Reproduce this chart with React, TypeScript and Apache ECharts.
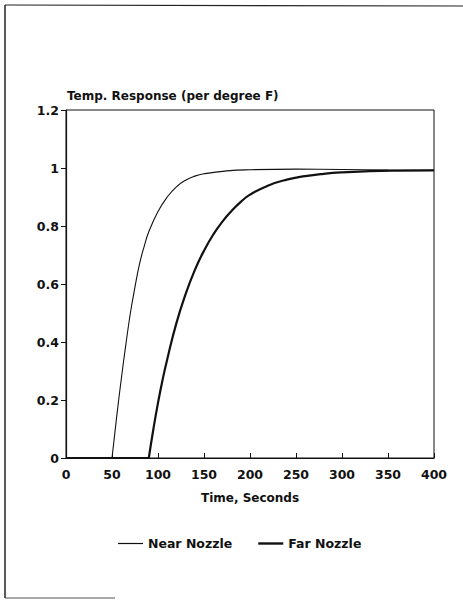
import React, { useEffect, useRef } from "react";
import * as echarts from "echarts";

const xTicks = [0, 50, 100, 150, 200, 250, 300, 350, 400];
const yTicks = [0, 0.2, 0.4, 0.6, 0.8, 1, 1.2];

// Response is zero until each curve's start time
const nearStart = 50;
const farStart = 90;

const nearTime = [50, 55, 60, 65, 70, 75, 80, 85, 90, 100, 110, 120, 130, 140, 150, 175, 200, 250, 300, 350, 400];
const nearValue = [0, 0.14, 0.27, 0.39, 0.5, 0.59, 0.67, 0.73, 0.78, 0.85, 0.9, 0.935, 0.958, 0.972, 0.98, 0.99, 0.994, 0.996, 0.995, 0.993, 0.992];

const farTime = [90, 95, 100, 105, 110, 120, 130, 140, 150, 160, 170, 180, 190, 200, 220, 240, 260, 280, 300, 330, 360, 400];
const farValue = [0, 0.1, 0.19, 0.27, 0.34, 0.465, 0.565, 0.648, 0.715, 0.77, 0.815, 0.852, 0.883, 0.908, 0.94, 0.96, 0.972, 0.98, 0.985, 0.989, 0.991, 0.992];

const FONT = "DejaVu Sans";

export default function App() {
  const ref = useRef<HTMLDivElement>(null);
  useEffect(() => {
    document.body.style.margin = "0";
    const chart = echarts.init(ref.current!, undefined, { renderer: "svg" });
    const near = nearTime.map((t, i) => [t, nearValue[i]]);
    const far = farTime.map((t, i) => [t, farValue[i]]);
    const txt = { fontFamily: FONT, fontSize: 12, fontWeight: "bold" as const, color: "#111" };
    const nearLine = { color: "#111", width: 1.1 };
    const farLine = { color: "#111", width: 2.2 };
    chart.setOption({
      animation: false,
      backgroundColor: "#fff",
      textStyle: { fontFamily: FONT },
      title: {
        text: "Temp. Response (per degree F)",
        left: 67,
        top: 90,
        padding: 0,
        textStyle: txt,
      },
      grid: {
        left: 66,
        right: 29,
        top: 110,
        bottom: 147,
        show: true,
        borderColor: "#111",
        borderWidth: 1,
        backgroundColor: "transparent",
      },
      legend: {
        left: 118,
        top: 537,
        padding: 0,
        itemWidth: 25,
        itemHeight: 12,
        itemGap: 26,
        textStyle: { ...txt, fontSize: 12.5 },
        itemStyle: { borderWidth: 0 },
        data: [
          { name: "Near Nozzle", icon: "path://M0,0h25v1.2h-25z" },
          { name: "Far Nozzle", icon: "path://M0,0h25v2.4h-25z" },
        ],
      },
      xAxis: {
        type: "value",
        min: 0,
        max: 400,
        interval: 50,
        name: "Time, Seconds",
        nameLocation: "middle",
        nameGap: 34,
        nameTextStyle: txt,
        axisLine: { show: true, lineStyle: { color: "#111", width: 1.2 } },
        axisTick: { show: true, inside: true, length: 5, lineStyle: { color: "#111" } },
        axisLabel: {
          ...txt,
          fontSize: 12.5,
          margin: 10,
          formatter: (v: number) => (xTicks.includes(v) ? String(v) : ""),
        },
        splitLine: { show: false },
      },
      yAxis: {
        type: "value",
        min: 0,
        max: 1.2,
        interval: 0.2,
        axisLine: { show: true, lineStyle: { color: "#111", width: 1.2 } },
        axisTick: { show: true, inside: false, length: 5, lineStyle: { color: "#111" } },
        axisLabel: {
          ...txt,
          fontSize: 12.5,
          margin: 7,
          formatter: (v: number) => {
            const m = yTicks.find((t) => Math.abs(t - v) < 1e-6);
            return m === undefined ? "" : String(m);
          },
        },
        splitLine: { show: false },
      },
      series: [
        {
          name: "Near Nozzle",
          type: "line",
          data: [[0, 0], [nearStart, 0]],
          symbol: "none",
          lineStyle: nearLine,
          itemStyle: { color: "#111" },
        },
        {
          name: "Near Nozzle",
          type: "line",
          data: near,
          smooth: 0.5,
          symbol: "none",
          lineStyle: nearLine,
          itemStyle: { color: "#111" },
        },
        {
          name: "Far Nozzle",
          type: "line",
          data: [[0, 0], [farStart, 0]],
          symbol: "none",
          lineStyle: farLine,
          itemStyle: { color: "#111" },
        },
        {
          name: "Far Nozzle",
          type: "line",
          data: far,
          smooth: 0.5,
          symbol: "none",
          lineStyle: farLine,
          itemStyle: { color: "#111" },
        },
      ],
      graphic: [
        { type: "line", shape: { x1: 5, y1: 5, x2: 463, y2: 6 }, style: { stroke: "#222", lineWidth: 1.2 } },
        { type: "line", shape: { x1: 5, y1: 5, x2: 5, y2: 598 }, style: { stroke: "#222", lineWidth: 1.5 } },
        { type: "line", shape: { x1: 5, y1: 598, x2: 115, y2: 598 }, style: { stroke: "#555", lineWidth: 1.2 } },
      ],
    });
    return () => chart.dispose();
  }, []);
  return <div ref={ref} style={{ width: 463, height: 605 }} />;
}
